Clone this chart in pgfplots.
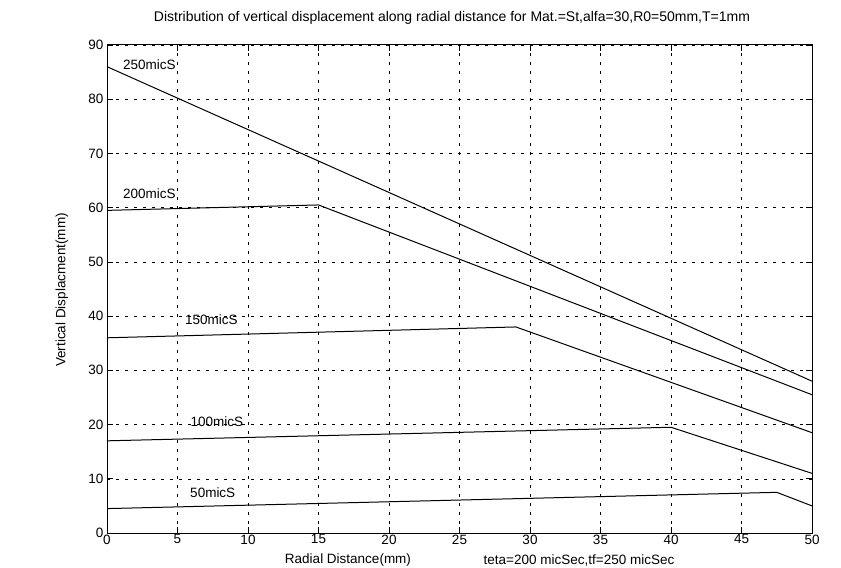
\documentclass[border=0pt]{standalone}
\usepackage{fontspec}
\setmainfont{Liberation Sans}
\usepackage{pgfplots}
\pgfplotsset{compat=1.18}
\begin{document}
\begin{tikzpicture}
\begin{axis}[
  width=705pt, height=488pt, scale only axis,
  xmin=0, xmax=50, ymin=0, ymax=90,
  xtick={0,5,...,50}, ytick={0,10,...,90},
  tick align=inside, tick pos=both,
  major tick length=6pt,
  grid=major,
  major grid style={black, line width=0.5pt, dash pattern=on 3pt off 6pt},
  axis line style={black, line width=1pt},
  tick style={black, line width=0.7pt},
  /pgf/number format/assume math mode=true,
  ticklabel style={font=\fontsize{13.5}{15}\selectfont},
  xticklabel style={inner sep=1.5pt},
  clip=false,
]
\addplot[black, line width=1pt] coordinates {(0,86) (50,28)};
\addplot[black, line width=1pt] coordinates {(0,59.5) (15,60.5) (50,25.5)};
\addplot[black, line width=1pt] coordinates {(0,36) (29,38) (50,18.5)};
\addplot[black, line width=1pt] coordinates {(0,17) (40,19.5) (50,11)};
\addplot[black, line width=1pt] coordinates {(0,4.5) (47.5,7.5) (50,5)};
\node[font=\fontsize{13.5}{15}\selectfont] at (axis cs:3,86.3) {250micS};
\node[font=\fontsize{13.5}{15}\selectfont] at (axis cs:3,62.6) {200micS};
\node[font=\fontsize{13.5}{15}\selectfont] at (axis cs:7.4,39.3) {150micS};
\node[font=\fontsize{13.5}{15}\selectfont] at (axis cs:7.8,20.5) {100micS};
\node[font=\fontsize{13.5}{15}\selectfont] at (axis cs:7.5,7.4) {50micS};
\coordinate (bl) at (rel axis cs:0,0);
\coordinate (tr) at (rel axis cs:1,1);
\end{axis}
\node[font=\fontsize{14}{16}\selectfont] at ([shift={(345pt,27pt)}]tr -| bl) {Distribution of vertical displacement along radial distance for Mat.=St,alfa=30,R0=50mm,T=1mm};
\node[font=\fontsize{13.5}{15}\selectfont] at ([shift={(241pt,-27pt)}]bl) {Radial Distance(mm)};
\node[font=\fontsize{13.5}{15}\selectfont] at ([shift={(472pt,-27pt)}]bl) {teta=200 micSec,tf=250 micSec};
\node[font=\fontsize{13.5}{15}\selectfont, rotate=90] at ([shift={(-45pt,243pt)}]bl) {Vertical Displacment(mm)};
\pgfresetboundingbox
\path ([shift={(-107pt,-34pt)}]bl) rectangle ([shift={(29pt,45pt)}]tr);
\end{tikzpicture}
\end{document}
